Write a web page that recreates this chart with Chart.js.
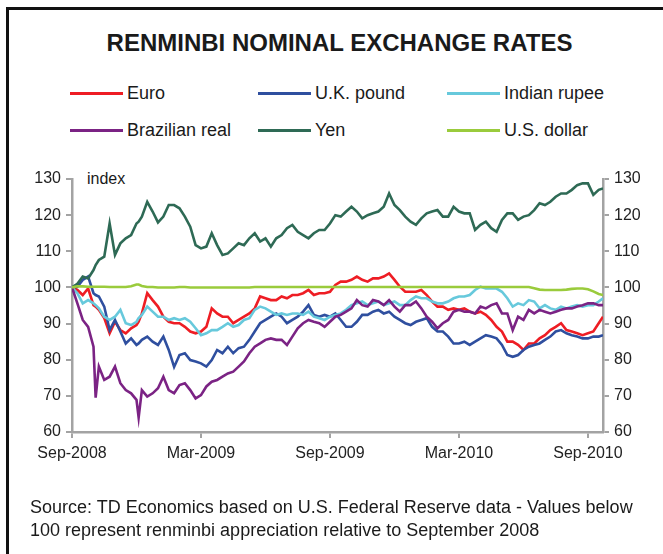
<!DOCTYPE html>
<html>
<head>
<meta charset="utf-8">
<script src="https://cdn.jsdelivr.net/npm/chart.js@4"></script>
<style>
  body { margin: 0; background: #fff; }
  #wrap { position: relative; width: 663px; height: 554px; overflow: hidden;
          font-family: "Liberation Sans", Arial, sans-serif; color: #1a1a1a; }
  #frame { position: absolute; left: 6px; top: 7px; width: 700px; height: 600px;
           border-left: 3px solid #111; border-top: 3px solid #111; }
  #title { position: absolute; left: 0; width: 679px; top: 29px; text-align: center;
           font-weight: bold; font-size: 24px; line-height: 28px; }
  .leg { position: absolute; font-size: 18px; line-height: 20px; white-space: nowrap; }
  .leg span { position: absolute; top: 9px; width: 53px; height: 0; border-top: 3px solid; }
  .leg b { position: absolute; left: 57px; top: 0; font-weight: normal; }
  #unit { position: absolute; left: 87px; top: 170px; font-size: 16px; }
  #note { position: absolute; left: 30px; top: 496px; font-size: 18px; line-height: 23px; }
  canvas { position: absolute; left: 0; top: 0; }
</style>
</head>
<body>
<div id="wrap">
  <div id="frame"></div>
  <div id="title">RENMINBI NOMINAL EXCHANGE RATES</div>
  <div id="legend"></div>
  <div id="unit">index</div>
  <canvas id="fxChart" width="663" height="554"></canvas>
  <div id="note">Source: TD Economics based on U.S. Federal Reserve data - Values below<br>100 represent renminbi appreciation relative to September 2008</div>
</div>
<script>
// months since September 2008
const months = [0, 0.25, 0.5, 0.75, 1, 1.1, 1.25, 1.5, 1.75, 2, 2.25, 2.5, 2.75, 3, 3.1, 3.25, 3.5, 3.75,
  4, 4.25, 4.5, 4.75, 5, 5.25, 5.5, 5.75, 6, 6.25, 6.5, 6.75, 7, 7.25, 7.5, 7.75, 8, 8.25, 8.5, 8.75,
  9, 9.25, 9.5, 9.75, 10, 10.25, 10.5, 10.75, 11, 11.25, 11.5, 11.75, 12, 12.25,
  12.5, 12.75, 13, 13.25, 13.5, 13.75, 14, 14.25, 14.5, 14.75, 15, 15.25, 15.5, 15.75, 16, 16.25,
  16.5, 16.75, 17, 17.25, 17.5, 17.75, 18, 18.25, 18.5, 18.75, 19, 19.25, 19.5, 19.75, 20, 20.25,
  20.5, 20.75, 21, 21.25, 21.5, 21.75, 22, 22.25, 22.5, 22.75, 23, 23.25, 23.5, 23.75, 24, 24.25, 24.5, 24.7];

const euro = [100, 99.3, 97.9, 99.7, 95.1, 94.7, 93.8, 91.5, 87.3, 90.5, 88.2, 87.3, 88.7, 89.6, 90.5, 92.8, 98.4, 96.5,
  94.7, 91.9, 90.5, 90.1, 90.1, 89.1, 87.8, 87.3, 87.8, 89.1, 94.2, 92.8, 91.9, 91.9, 90.1, 91, 91.9, 92.8, 94.2, 97.5,
  97, 96.5, 96.5, 97.5, 97, 97.9, 97.9, 98.4, 99.3, 97.9, 98.4, 98.4, 98.8, 100.7,
  101.6, 101.6, 102.1, 103, 102.1, 101.6, 102.5, 102.5, 103, 103.9, 102.1, 100.2, 98.8, 98.8, 98.8, 99.3,
  97.9, 96.1, 94.7, 94.7, 93.8, 94.2, 93.8, 94.2, 93.3, 92.8, 93.3, 92.4, 91, 89.1, 87.8, 85,
  85, 84.1, 82.7, 84.5, 84.5, 85.9, 86.8, 88.2, 89.1, 90.1, 88.2, 87.8, 87.3, 86.8, 87.3, 87.8, 90.1, 91.9];
const ukPound = [100, 100.2, 102.1, 103, 98.4, 97.9, 97.5, 94.7, 88.2, 91, 87.8, 84.5, 85.9, 84.1, 84.5, 85.5, 86.4, 85,
  84.1, 86.4, 82.7, 78, 81.3, 81.8, 79.9, 79.5, 79, 78.1, 79.9, 82.7, 81.8, 83.6, 81.8, 83.2, 83.6, 85.5, 87.8, 90.1,
  91, 91.9, 92.8, 91.9, 90.1, 91, 91.9, 93.3, 95.1, 92.4, 91.9, 92.4, 91.9, 92.8,
  91, 89.1, 89.1, 90.5, 92.4, 92.4, 93.3, 93.8, 92.8, 93.3, 91.9, 91, 90.1, 89.6, 90.5, 91,
  91.5, 89.1, 87.8, 87.8, 86.4, 84.5, 84.5, 85, 84.1, 85, 85.9, 86.8, 86.4, 85.9, 84.1, 81.3,
  80.8, 81.3, 82.7, 83.6, 84.1, 84.5, 85.5, 86.4, 87.8, 88.2, 87.3, 86.8, 86.4, 85.9, 85.9, 86.4, 86.4, 86.8];
const rupee = [100, 98.4, 95.6, 96.5, 95.6, 95.1, 94.2, 91.9, 91, 91.9, 93.8, 90.1, 89.6, 90.5, 91.5, 92.4, 94.7, 93.3,
  91.9, 91.9, 91, 91.5, 91, 91.5, 90.5, 88.7, 86.8, 87.3, 88.2, 88.2, 89.1, 90.1, 89.1, 89.6, 91, 91.5, 93.8, 94.7,
  94.2, 93.3, 92.4, 92.8, 92.4, 92.8, 92.8, 92.4, 93.3, 91.9, 91.5, 91, 91.9, 92.4,
  92.8, 93.8, 95.1, 95.6, 96.1, 95.1, 95.6, 96.1, 95.1, 95.6, 96.1, 95.1, 95.1, 96.5, 97.5, 97,
  97, 96.1, 95.6, 95.6, 96.1, 97, 97.5, 97.5, 97.9, 99.3, 100.2, 99.7, 99.7, 99.7, 98.8, 97,
  94.7, 95.6, 95.1, 96.5, 96.1, 94.2, 95.1, 94.2, 93.8, 94.7, 94.2, 94.7, 95.1, 94.7, 95.1, 95.1, 96.1, 97];
const real = [100, 95.6, 91, 89.1, 83.6, 69.5, 78.1, 74.4, 75.3, 78.1, 73.5, 71.6, 70.7, 68.9, 64, 71.6, 69.8, 70.7,
  72.1, 75.3, 71.6, 70.7, 73, 73.5, 71.6, 69.3, 70.2, 72.6, 73.9, 74.4, 75.3, 76.2, 76.7, 78.1, 79.5, 81.8, 83.6, 84.5,
  85.5, 85.9, 85.5, 85.5, 84.1, 86.4, 88.7, 90.1, 91, 90.5, 90.1, 89.1, 90.5, 91.9,
  92.4, 93.3, 94.2, 96.5, 95.1, 94.7, 96.5, 96.1, 95.1, 96.5, 94.7, 93.3, 95.1, 95.1, 96.1, 94.2,
  91.9, 90.5, 88.7, 90.1, 91, 93.3, 93.8, 93.3, 93.3, 92.8, 94.7, 94.2, 95.1, 95.6, 92.8, 92.8,
  88.2, 91.9, 91, 93.8, 92.8, 93.8, 93.3, 92.8, 93.3, 93.8, 94.2, 94.2, 94.7, 95.1, 95.6, 95.6, 95.1, 95.1];
const yen = [100, 101, 103, 102.5, 104.8, 106.2, 107.6, 108.5, 117.7, 109, 112.2, 113.6, 114.5, 117.7, 118.2, 119.6, 123.7, 121,
  118, 119.6, 122.8, 122.8, 121.9, 119.6, 116.8, 111.7, 110.8, 111.3, 115, 111.7, 109, 109.4, 110.8, 112.2, 111.7, 113.6, 115, 112.7,
  113.6, 111.3, 113.6, 114.5, 116.4, 117.3, 115.4, 114.5, 113.6, 115, 115.9, 115.9, 117.7, 120,
  119.6, 121, 122.3, 121, 119.1, 120, 120.5, 121, 122.3, 126, 122.8, 121.4, 119.6, 118.2, 117.3, 119.1,
  120.5, 121, 121.4, 119.6, 119.6, 122.3, 121, 120.5, 120.5, 115.9, 117.3, 118.2, 116.4, 115.4, 118.7, 120.5,
  120.5, 118.7, 119.6, 120, 121.4, 123.3, 122.8, 123.7, 125.1, 126, 126, 127, 128.3, 128.8, 128.8, 125.6, 127, 127.4];
const usDollar = [100, 100.3, 100.3, 100.2, 100.2, 100.2, 100.2, 100.2, 100.1, 100.1, 100.1, 100.1, 100.3, 100.8, 100.8, 100.4, 100.1, 100.1,
  100, 100, 100, 100, 100.1, 100.1, 100, 100, 100, 100, 100, 100, 100, 100, 100, 100, 100, 100, 100.1, 100.1,
  100.1, 100.1, 100.1, 100.1, 100.1, 100.1, 100.1, 100.1, 100.1, 100.1, 100.1, 100.1, 100.1, 100.1,
  100.1, 100.1, 100.1, 100.1, 100.1, 100.1, 100.1, 100.1, 100.1, 100.1, 100.1, 100.1, 100.1, 100.1, 100.1, 100.1,
  100.1, 100.1, 100.1, 100.1, 100.1, 100.1, 100.1, 100.1, 100.1, 100.1, 100.1, 100.1, 100.1, 100.1, 100.1, 100.1,
  100.1, 100.1, 100.1, 100.1, 99.8, 99.4, 99.3, 99.3, 99.3, 99.3, 99.4, 99.6, 99.7, 99.7, 99.5, 98.9, 98.2, 97.9];

const seriesNames = ['Euro', 'U.K. pound', 'Indian rupee', 'Brazilian real', 'Yen', 'U.S. dollar'];
const seriesValues = [euro, ukPound, rupee, real, yen, usDollar];
const seriesColors = ['#ee1d24', '#2f4f9f', '#67c9dc', '#7b2384', '#2e6a55', '#9acb3c'];

const xTickPos = [0, 6, 12, 18, 24];
const xTickLabels = ['Sep-2008', 'Mar-2009', 'Sep-2009', 'Mar-2010', 'Sep-2010'];

const axisColor = '#a3a3a3';
const tickFont = { family: '"Liberation Sans", Arial, sans-serif', size: 16 };

// legend, 3 columns x 2 rows
const legendCols = [70, 258, 447];
const legendRows = [83, 120];
const legendBox = document.getElementById('legend');
seriesNames.forEach((name, i) => {
    const item = document.createElement('div');
    item.className = 'leg';
    item.style.left = legendCols[i % 3] + 'px';
    item.style.top = legendRows[Math.floor(i / 3)] + 'px';
    item.innerHTML = '<span style="border-color:' + seriesColors[i] + '"></span><b>' + name + '</b>';
    legendBox.appendChild(item);
});

const valueAxis = (position, width) => ({
    position: position,
    display: true,
    min: 60,
    max: 130,
    ticks: { stepSize: 10, font: tickFont, color: '#222', padding: 5 },
    grid: { drawOnChartArea: false, tickLength: 6, color: axisColor, lineWidth: 2 },
    border: { color: axisColor, width: 2.5 },
    afterFit: s => { s.width = width; }
});

const ctx = document.getElementById('fxChart').getContext('2d');
new Chart(ctx, {
    type: 'line',
    data: {
        datasets: seriesNames.map((name, i) => ({
            label: name,
            data: months.map((m, j) => ({ x: m, y: seriesValues[i][j] })),
            borderColor: seriesColors[i],
            borderWidth: 2.6,
            pointRadius: 0,
            tension: 0,
            yAxisID: 'y',
            order: seriesNames.length - i
        }))
    },
    options: {
        responsive: false,
        animation: false,
        layout: { padding: { top: 179, left: 0, right: 0, bottom: 0 } },
        plugins: { legend: { display: false }, tooltip: { enabled: false } },
        scales: {
            x: {
                type: 'linear',
                min: 0,
                max: 24.7,
                afterBuildTicks: s => { s.ticks = xTickPos.map(v => ({ value: v })); },
                ticks: {
                    font: tickFont, color: '#222', padding: 6, maxRotation: 0, autoSkip: false,
                    callback: v => xTickLabels[xTickPos.indexOf(v)]
                },
                grid: { drawOnChartArea: false, tickLength: 6, color: axisColor, lineWidth: 2 },
                border: { color: axisColor, width: 2.5 },
                afterFit: s => { s.height = 122; }
            },
            y: valueAxis('left', 72),
            y2: valueAxis('right', 60)
        }
    }
});
</script>
</body>
</html>
